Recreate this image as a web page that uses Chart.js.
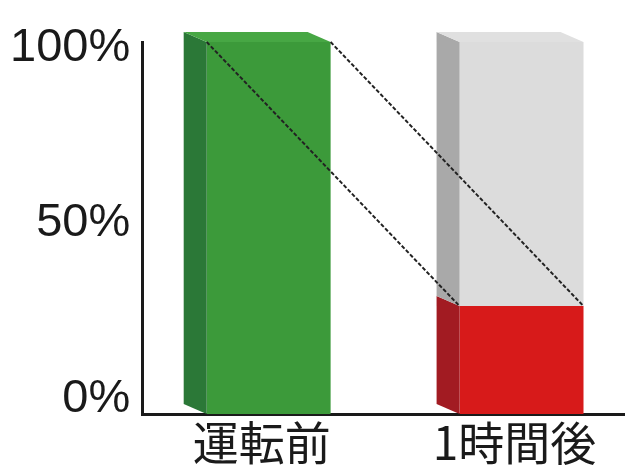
<!DOCTYPE html>
<html>
<head>
<meta charset="utf-8">
<script src="https://cdn.jsdelivr.net/npm/chart.js@4/dist/chart.umd.min.js"></script>
<style>
  html, body { margin:0; padding:0; background:#fff; overflow:hidden; }
  #chart { display:block; }
</style>
</head>
<body>
<canvas id="chart" width="648" height="472"></canvas>
<script>
// categories and values (percent of charge)
const categories = ['運転前', '1時間後'];
const remaining = [100, 29];   // green before, red after
const used = [0, 71];          // grey part of the after bar
const yTicks = [0, 50, 100];

const frontColors = ['#3c9a3a', '#d71a1a'];
const sideColors = ['#2b7837', '#a21b22'];
const topColors = ['#47a744', '#e0e0e0'];

const DEPTH_X = -23, DEPTH_Y = -10;

// side / top faces for the fake 3D look + the dashed guide lines
const boxPlugin = {
  id: 'box3d',
  afterDatasetsDraw(chart){
    const ctx = chart.ctx;
    const metas = chart.data.datasets.map((d,i)=> chart.getDatasetMeta(i));
    ctx.save();
    metas.forEach((meta, di)=>{
      meta.data.forEach((bar, idx)=>{
        const v = chart.data.datasets[di].data[idx];
        if(!v) return;
        const p = bar.getProps(['x','y','base','width'], true);
        const l = p.x - p.width/2, r = p.x + p.width/2;
        ctx.fillStyle = di === 0 ? sideColors[idx] : '#a9a9a9';
        ctx.beginPath();
        ctx.moveTo(l, p.y); ctx.lineTo(l + DEPTH_X, p.y + DEPTH_Y);
        ctx.lineTo(l + DEPTH_X, p.base + DEPTH_Y); ctx.lineTo(l, p.base);
        ctx.closePath(); ctx.fill();
        // top face only on the highest piece of the stack
        const isTop = chart.data.datasets.every((d,j)=> j <= di || !d.data[idx]);
        if(isTop){
          ctx.fillStyle = di === 0 ? topColors[0] : topColors[1];
          ctx.beginPath();
          ctx.moveTo(l, p.y); ctx.lineTo(r, p.y);
          ctx.lineTo(r + DEPTH_X, p.y + DEPTH_Y); ctx.lineTo(l + DEPTH_X, p.y + DEPTH_Y);
          ctx.closePath(); ctx.fill();
        }
      });
    });
    // dashed lines from the full bar to the remaining part
    const a = metas[0].data[0].getProps(['x','y','width'], true);
    const b = metas[0].data[1].getProps(['x','y','width'], true);
    ctx.strokeStyle = '#222';
    ctx.lineWidth = 2;
    ctx.setLineDash([4, 2]);
    [-1, 1].forEach(s=>{
      ctx.beginPath();
      ctx.moveTo(a.x + s*a.width/2, a.y);
      ctx.lineTo(b.x + s*b.width/2, b.y);
      ctx.stroke();
    });
    ctx.restore();
  }
};

new Chart(document.getElementById('chart').getContext('2d'), {
  type: 'bar',
  data: {
    labels: categories,
    datasets: [
      { label: '残量', data: remaining, backgroundColor: frontColors, yAxisID: 'y' },
      { label: '消費', data: used, backgroundColor: '#dcdcdc', yAxisID: 'y' }
    ]
  },
  options: {
    responsive: false,
    animation: false,
    devicePixelRatio: 1,
    layout: { padding: { left: -2, top: 42, right: 0, bottom: 0 } },
    datasets: { bar: { barPercentage: 0.49, categoryPercentage: 1, borderWidth: 0 } },
    plugins: { legend: { display: false }, tooltip: { enabled: false } },
    scales: {
      x: {
        stacked: true,
        grid: { display: false, drawTicks: false },
        border: { display: true, color: '#1a1a1a', width: 3 },
        ticks: {
          color: '#1a1a1a', padding: 6, labelOffset: -7, maxRotation: 0, autoSkip: false,
          font: { family: '"Noto Sans CJK JP"', size: 46, weight: 'normal', lineHeight: 1 }
        }
      },
      y: { stacked: true, display: false, min: 0, max: 100 },
      yLabels: {
        position: 'left',
        min: -4.37, max: 101.6,
        afterBuildTicks: s => { s.ticks = yTicks.map(v => ({ value: v })); },
        grid: { display: false, drawTicks: false },
        border: { display: true, color: '#1a1a1a', width: 3 },
        ticks: {
          color: '#1a1a1a', padding: 12,
          font: { family: '"Liberation Sans"', size: 47 },
          callback: v => v + '%'
        }
      }
    }
  },
  plugins: [boxPlugin]
});
</script>
</body>
</html>
